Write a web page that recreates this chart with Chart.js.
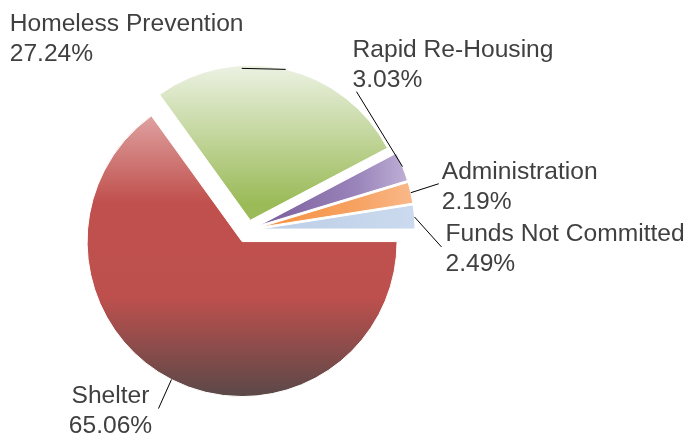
<!DOCTYPE html>
<html>
<head>
<meta charset="utf-8">
<script src="https://cdn.jsdelivr.net/npm/chart.js@4"></script>
<style>
  html, body { margin: 0; padding: 0; background: #fff; }
  #wrap { width: 691px; height: 435px; position: relative; }
</style>
</head>
<body>
<div id="wrap"><canvas id="pieChart"></canvas></div>
<script>
const categories = ['Shelter', 'Homeless Prevention', 'Rapid Re-Housing', 'Administration', 'Funds Not Committed'];
const shares = [65.06, 27.24, 3.03, 2.19, 2.49];

// gradient stops per slice: big slices shade top->bottom, thin ones centre->rim
const sliceColors = [
    { dir: 'v', stops: [[0, '#f2d6d6'], [0.42, '#c0504d'], [0.7, '#bd504d'], [1, '#574848']] },
    { dir: 'v', stops: [[0, '#eff4e8'], [0.42, '#9bbb59'], [0.7, '#97b656'], [1, '#5e7236']] },
    { dir: 'h', stops: [[0, '#7c609e'], [0.6, '#9a84ba'], [1, '#c4b6da']] },
    { dir: 'h', stops: [[0, '#f59242'], [0.6, '#f7a262'], [1, '#f9ba8c']] },
    { dir: 'h', stops: [[0, '#bccee6'], [1, '#cbdaee']] }
];
const explode = [13, 10, 12, 12, 12];

// leader line (from arc edge) and text position (from leader end)
const labelStyle = [
    { leader: [-13, 29], text: [-48, -6], align: 'center' },
    { leader: [-44, -1], text: [-232, -37], align: 'left' },
    { leader: [-46, -75], text: [-4, -35], align: 'left' },
    { leader: [28, -9], text: [3, -5], align: 'left' },
    { leader: [27, 30], text: [4, -6], align: 'left' }
];

const explodePlugin = {
    id: 'explode',
    beforeDatasetsDraw(chart) {
        const area = chart.chartArea;
        const cx = (area.left + area.right) / 2;
        const cy = (area.top + area.bottom) / 2;
        chart.getDatasetMeta(0).data.forEach((arc, i) => {
            const mid = (arc.startAngle + arc.endAngle) / 2;
            arc.x = cx + Math.cos(mid) * explode[i];
            arc.y = cy + Math.sin(mid) * explode[i];
        });
    }
};

const labelPlugin = {
    id: 'sliceLabels',
    afterDatasetsDraw(chart) {
        const ctx = chart.ctx;
        ctx.save();
        ctx.font = '24.6px "Liberation Sans", Arial, sans-serif';
        ctx.fillStyle = '#404040';
        ctx.strokeStyle = '#000';
        ctx.lineWidth = 1;
        ctx.textBaseline = 'alphabetic';
        chart.getDatasetMeta(0).data.forEach((arc, i) => {
            const mid = (arc.startAngle + arc.endAngle) / 2;
            const ex = arc.x + Math.cos(mid) * arc.outerRadius;
            const ey = arc.y + Math.sin(mid) * arc.outerRadius;
            const st = labelStyle[i];
            const lx = ex + st.leader[0];
            const ly = ey + st.leader[1];
            ctx.beginPath();
            ctx.moveTo(ex, ey);
            ctx.lineTo(lx, ly);
            ctx.stroke();
            ctx.textAlign = st.align;
            const tx = lx + st.text[0];
            const ty = ly + st.text[1];
            ctx.fillText(categories[i], tx, ty);
            ctx.fillText(shares[i].toFixed(2) + '%', tx, ty + 30);
        });
        ctx.restore();
    }
};

new Chart(document.getElementById('pieChart'), {
    type: 'pie',
    data: {
        labels: categories,
        datasets: [{
            data: shares,
            backgroundColor: (c) => {
                const col = sliceColors[c.dataIndex];
                const area = c.chart.chartArea;
                if (!area) return col.stops[1][1];
                const cx = (area.left + area.right) / 2;
                const cy = (area.top + area.bottom) / 2;
                const g = col.dir === 'v'
                    ? c.chart.ctx.createLinearGradient(0, cy - 170, 0, cy + 170)
                    : c.chart.ctx.createLinearGradient(cx + 20, 0, cx + 168, 0);
                col.stops.forEach(s => g.addColorStop(s[0], s[1]));
                return g;
            },
            borderColor: '#fff',
            borderWidth: 1,
            hoverOffset: 0
        }]
    },
    options: {
        responsive: true,
        maintainAspectRatio: false,
        animation: false,
        events: [],
        rotation: 90,
        radius: 155,
        layout: { padding: { left: 0, right: 195, top: 25, bottom: 0 } },
        plugins: {
            legend: { display: false },
            tooltip: { enabled: false }
        }
    },
    plugins: [explodePlugin, labelPlugin]
});
</script>
</body>
</html>
